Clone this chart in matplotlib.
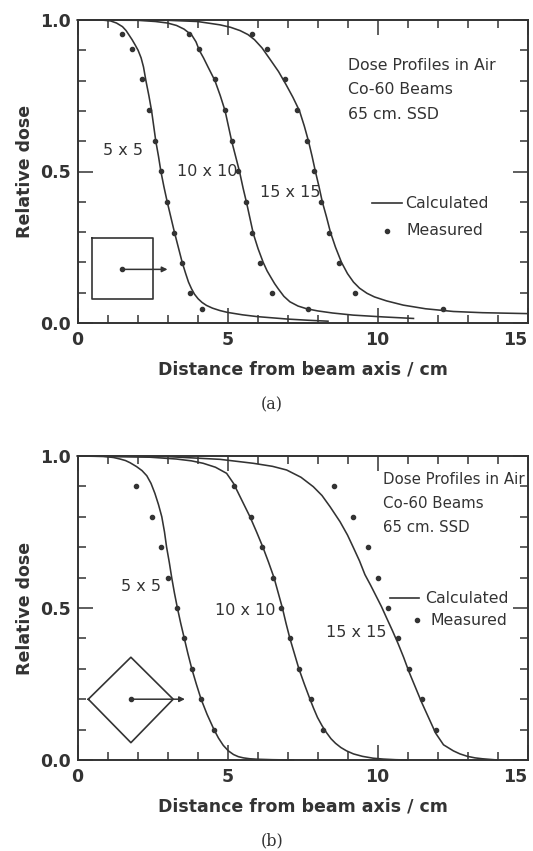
import matplotlib
matplotlib.use("Agg")
import matplotlib.pyplot as plt
from matplotlib.ticker import MultipleLocator

# ---------------- data: panel (a) ----------------
a_meas_y = [0.954, 0.904, 0.804, 0.703, 0.601, 0.502, 0.399, 0.298, 0.199, 0.098, 0.047]
a_meas_5_x = [1.49, 1.81, 2.14, 2.39, 2.58, 2.78, 2.99, 3.23, 3.49, 3.75, 4.16]
a_meas_10_x = [3.72, 4.06, 4.58, 4.92, 5.14, 5.36, 5.61, 5.81, 6.08, 6.47, 7.67]
a_meas_15_x = [5.81, 6.31, 6.92, 7.33, 7.66, 7.88, 8.11, 8.38, 8.72, 9.25, 12.19]

a_calc_5_x = [0, 0.8, 1.1, 1.3, 1.5, 1.62, 1.72, 1.82, 1.92, 2.02, 2.12, 2.2, 2.28, 2.38, 2.47, 2.54,
              2.61, 2.7, 2.78, 2.88, 2.99, 3.11, 3.23, 3.36, 3.49, 3.6, 3.70, 3.80, 3.90, 4.02, 4.15,
              4.3, 4.5, 4.75, 5.0, 5.5, 6.0, 6.5, 7.0, 7.7, 8.35]
a_calc_5_y = [1.0, 1.0, 0.997, 0.99, 0.978, 0.965, 0.95, 0.935, 0.918, 0.90, 0.875, 0.845, 0.80, 0.75,
              0.70, 0.65, 0.60, 0.55, 0.50, 0.45, 0.40, 0.35, 0.30, 0.25, 0.20, 0.165, 0.135, 0.113,
              0.095, 0.08, 0.068, 0.058, 0.049, 0.041, 0.035, 0.027, 0.021, 0.017, 0.013, 0.009, 0.006]
a_calc_10_x = [0, 2.0, 2.6, 3.0, 3.3, 3.55, 3.81, 3.95, 4.06, 4.2, 4.35, 4.58, 4.76, 4.92, 5.03, 5.14,
               5.27, 5.4, 5.52, 5.64, 5.75, 5.86, 6.02, 6.19, 6.32, 6.45, 6.57, 6.69, 6.88, 7.08, 7.35,
               7.64, 8.0, 8.5, 9.19, 10.2, 11.2]
a_calc_10_y = [1.0, 0.999, 0.995, 0.99, 0.982, 0.97, 0.95, 0.928, 0.90, 0.875, 0.845, 0.80, 0.75, 0.70,
               0.65, 0.60, 0.55, 0.50, 0.445, 0.395, 0.345, 0.295, 0.245, 0.20, 0.172, 0.15, 0.13,
               0.113, 0.088, 0.07, 0.056, 0.047, 0.04, 0.033, 0.026, 0.02, 0.015]
a_calc_15_x = [0, 3.0, 4.0, 4.75, 5.1, 5.42, 5.68, 5.9, 6.15, 6.42, 6.7, 6.95, 7.18, 7.40, 7.56, 7.70,
               7.82, 7.93, 8.05, 8.16, 8.3, 8.43, 8.6, 8.80, 9.0, 9.2, 9.4, 9.65, 9.9, 10.3, 10.86,
               11.6, 12.53, 13.5, 15.0]
a_calc_15_y = [1.0, 0.999, 0.995, 0.984, 0.976, 0.965, 0.952, 0.935, 0.908, 0.87, 0.83, 0.787, 0.745,
               0.70, 0.65, 0.60, 0.55, 0.50, 0.45, 0.40, 0.35, 0.30, 0.25, 0.20, 0.163, 0.135, 0.115,
               0.098, 0.086, 0.073, 0.059, 0.047, 0.038, 0.034, 0.031]

a_inset_x = [0.47, 2.51, 2.51, 0.47, 0.47]
a_inset_y = [0.279, 0.279, 0.078, 0.078, 0.279]
a_arrow = (1.47, 3.0, 0.177)

# ---------------- data: panel (b) ----------------
b_meas_y = [0.90, 0.80, 0.70, 0.60, 0.50, 0.40, 0.30, 0.20, 0.10]
b_meas_5_x = [1.95, 2.47, 2.77, 3.03, 3.33, 3.56, 3.81, 4.12, 4.55]
b_meas_10_x = [5.21, 5.78, 6.16, 6.53, 6.77, 7.08, 7.37, 7.77, 8.19]
b_meas_15_x = [8.55, 9.17, 9.67, 10.01, 10.36, 10.69, 11.05, 11.47, 11.94]

b_calc_5_x = [0, 0.86, 1.2, 1.42, 1.6, 1.75, 1.97, 2.15, 2.31, 2.45, 2.58, 2.7, 2.81, 2.9, 2.97, 3.06,
              3.14, 3.23, 3.33, 3.44, 3.56, 3.68, 3.81, 3.96, 4.12, 4.32, 4.55, 4.7, 4.86, 5.03, 5.2,
              5.36, 5.53, 5.75, 6.0, 6.5, 7.2]
b_calc_5_y = [1.0, 0.999, 0.995, 0.99, 0.985, 0.978, 0.965, 0.952, 0.935, 0.91, 0.877, 0.84, 0.80,
              0.75, 0.70, 0.65, 0.60, 0.55, 0.50, 0.45, 0.40, 0.35, 0.30, 0.25, 0.20, 0.15, 0.10, 0.072,
              0.048, 0.03, 0.018, 0.011, 0.007, 0.004, 0.0025, 0.001, 0.0]
b_calc_10_x = [0, 2.42, 3.3, 3.8, 4.19, 4.6, 4.97, 5.2, 5.42, 5.6, 5.75, 5.97, 6.18, 6.37, 6.55, 6.69,
               6.83, 6.95, 7.08, 7.23, 7.38, 7.56, 7.75, 7.87, 8.0, 8.15, 8.3, 8.45, 8.6, 8.78, 8.97,
               9.2, 9.5, 9.85, 10.2, 10.6, 11.0]
b_calc_10_y = [1.0, 0.996, 0.99, 0.984, 0.976, 0.963, 0.943, 0.91, 0.866, 0.83, 0.80, 0.75, 0.70, 0.65,
               0.60, 0.55, 0.50, 0.45, 0.40, 0.35, 0.30, 0.25, 0.20, 0.17, 0.14, 0.113, 0.09, 0.07,
               0.055, 0.041, 0.03, 0.02, 0.012, 0.006, 0.003, 0.001, 0.0]
b_calc_15_x = [0, 3.0, 4.75, 5.86, 6.5, 6.97, 7.45, 7.86, 8.15, 8.42, 8.75, 9.0, 9.19, 9.4, 9.58, 9.77,
               9.95, 10.13, 10.3, 10.5, 10.69, 10.87, 11.05, 11.26, 11.47, 11.7, 11.94, 12.2, 12.53,
               12.75, 13.0, 13.25, 13.5, 13.75, 14.0]
b_calc_15_y = [1.0, 0.998, 0.989, 0.976, 0.966, 0.954, 0.93, 0.899, 0.87, 0.833, 0.784, 0.74, 0.70,
               0.655, 0.61, 0.575, 0.54, 0.505, 0.468, 0.425, 0.382, 0.338, 0.29, 0.24, 0.19, 0.14, 0.088,
               0.05, 0.03, 0.02, 0.012, 0.007, 0.004, 0.002, 0.0]

b_inset_x = [0.36, 1.78, 3.19, 1.78, 0.36]
b_inset_y = [0.2, 0.338, 0.2, 0.057, 0.2]
b_arrow = (1.78, 3.58, 0.2)

field_labels = ["5 x 5", "10 x 10", "15 x 15"]
note_lines = ["Dose Profiles in Air", "Co-60 Beams", "65 cm. SSD"]
xtick_vals = [0, 5, 10, 15]
xtick_labels = ["0", "5", "10", "15"]
ytick_vals = [0, 0.5, 1.0]
ytick_labels = ["0.0", "0.5", "1.0"]
xlabel = "Distance from beam axis / cm"
ylabel = "Relative dose"

INK = "#333333"
plt.rcParams["font.family"] = ["DejaVu Sans"]

fig = plt.figure(figsize=(5.33, 8.51), dpi=100)
ax_a = fig.add_axes([77.5 / 533, (851 - 323) / 851, 450 / 533, 303 / 851])
ax_b = fig.add_axes([77.5 / 533, (851 - 760) / 851, 450 / 533, 304 / 851])


def style(ax):
    ax.set_xlim(0, 15)
    ax.set_ylim(0, 1.0)
    ax.xaxis.set_minor_locator(MultipleLocator(1))
    ax.yaxis.set_minor_locator(MultipleLocator(0.1))
    ax.set_xticks(xtick_vals)
    ax.set_xticklabels(xtick_labels)
    ax.set_yticks(ytick_vals)
    ax.set_yticklabels(ytick_labels)
    ax.tick_params(which="major", direction="in", length=11, width=1.1, color=INK,
                   top=True, right=True, labelsize=12.5, labelcolor=INK, pad=5)
    ax.tick_params(which="minor", direction="in", length=6, width=1.1, color=INK,
                   top=True, right=True)
    ax.tick_params(axis="x", which="major", pad=6)
    for s in ax.spines.values():
        s.set_linewidth(1.4)
        s.set_color(INK)
    for lab in ax.get_xticklabels() + ax.get_yticklabels():
        lab.set_fontweight("bold")
    ax.get_xticklabels()[-1].set_horizontalalignment("right")
    ax.set_xlabel(xlabel, fontsize=12.5, fontweight="bold", color=INK, labelpad=8)
    ax.set_ylabel(ylabel, fontsize=12.5, fontweight="bold", color=INK, labelpad=4)


def draw(ax, calc, meas_x, meas_y, inset_x, inset_y, arrow):
    for cx, cy in calc:
        ax.plot(cx, cy, color=INK, lw=1.15, solid_joinstyle="round", clip_on=False)
    for mx in meas_x:
        ax.plot(mx, meas_y[:len(mx)], ls="none", marker="o", ms=3, color=INK)
    ax.plot(inset_x, inset_y, color=INK, lw=1.2)
    ax.plot([arrow[0]], [arrow[2]], marker="o", ms=3, color=INK)
    ax.annotate("", xy=(arrow[1], arrow[2]), xytext=(arrow[0], arrow[2]),
                arrowprops=dict(arrowstyle="-|>", color=INK, lw=1.1,
                                mutation_scale=8, shrinkA=0, shrinkB=0))


# panel (a)
style(ax_a)
draw(ax_a,
     [(a_calc_5_x, a_calc_5_y), (a_calc_10_x, a_calc_10_y), (a_calc_15_x, a_calc_15_y)],
     [a_meas_5_x, a_meas_10_x, a_meas_15_x], a_meas_y, a_inset_x, a_inset_y, a_arrow)
ax_a.text(1.52, 0.57, field_labels[0], fontsize=11.5, color=INK, ha="center", va="center")
ax_a.text(4.33, 0.50, field_labels[1], fontsize=11.5, color=INK, ha="center", va="center")
ax_a.text(7.08, 0.43, field_labels[2], fontsize=11.5, color=INK, ha="center", va="center")
for i, t in enumerate(note_lines):
    ax_a.text(9.03, 0.851 - 0.081 * i, t, fontsize=11.3, color=INK, ha="left", va="center")
ax_a.plot([9.8, 10.8], [0.395, 0.395], color=INK, lw=1.2)
ax_a.text(10.92, 0.395, "Calculated", fontsize=11.3, color=INK, ha="left", va="center")
ax_a.plot([10.31], [0.304], marker="o", ms=3, color=INK)
ax_a.text(10.95, 0.304, "Measured", fontsize=11.3, color=INK, ha="left", va="center")

# panel (b)
style(ax_b)
draw(ax_b,
     [(b_calc_5_x, b_calc_5_y), (b_calc_10_x, b_calc_10_y), (b_calc_15_x, b_calc_15_y)],
     [b_meas_5_x, b_meas_10_x, b_meas_15_x], b_meas_y, b_inset_x, b_inset_y, b_arrow)
ax_b.text(2.12, 0.57, field_labels[0], fontsize=11.5, color=INK, ha="center", va="center")
ax_b.text(5.6, 0.493, field_labels[1], fontsize=11.5, color=INK, ha="center", va="center")
ax_b.text(9.28, 0.42, field_labels[2], fontsize=11.5, color=INK, ha="center", va="center")
for i, t in enumerate(note_lines):
    ax_b.text(10.19, 0.923 - 0.079 * i, t, fontsize=10.8, color=INK, ha="left", va="center")
ax_b.plot([10.42, 11.38], [0.532, 0.532], color=INK, lw=1.2)
ax_b.text(11.58, 0.532, "Calculated", fontsize=11.3, color=INK, ha="left", va="center")
ax_b.plot([11.31], [0.46], marker="o", ms=3, color=INK)
ax_b.text(11.77, 0.46, "Measured", fontsize=11.3, color=INK, ha="left", va="center")

fig.text(272 / 533, 1 - 405 / 851, "(a)", family="DejaVu Serif", fontsize=11.5,
         color=INK, ha="center", va="center")
fig.text(272 / 533, 1 - 841 / 851, "(b)", family="DejaVu Serif", fontsize=11.5,
         color=INK, ha="center", va="center")

fig.savefig("out.png", dpi=100, facecolor="white")
